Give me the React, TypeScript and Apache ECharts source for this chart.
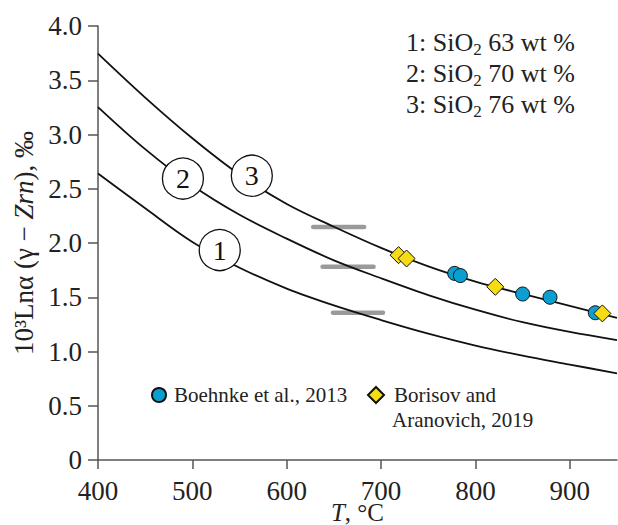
import React, { useEffect, useRef } from 'react';
import * as echarts from 'echarts';

const FONT = "'Liberation Serif', 'Times New Roman', serif";

// Temperature grid (°C) at which the three model curves were read
const TEMPS = [400, 450, 500, 550, 600, 650, 700, 750, 800, 850, 900, 950];
const CURVE_1 = [2.64, 2.32, 2.01, 1.772, 1.58, 1.425, 1.29, 1.165, 1.055, 0.962, 0.88, 0.798];
const CURVE_2 = [3.253, 2.865, 2.53, 2.26, 2.04, 1.84, 1.675, 1.52, 1.385, 1.27, 1.18, 1.105];
const CURVE_3 = [3.745, 3.34, 2.965, 2.63, 2.36, 2.15, 1.955, 1.785, 1.645, 1.53, 1.42, 1.31];

// Data points
const BOEHNKE_T = [778, 784, 850, 879, 927];
const BOEHNKE_V = [1.72, 1.7, 1.53, 1.5, 1.357];
const BORISOV_T = [718.5, 727, 821, 934.5];
const BORISOV_V = [1.888, 1.857, 1.596, 1.351];

// Gray horizontal bars
const BAR_START = [628, 638, 649];
const BAR_END = [682, 692, 702];
const BAR_Y = [2.148, 1.78, 1.357];

// Curve number bubbles
const LABEL_T = [529, 490, 563];
const LABEL_V = [1.935, 2.594, 2.62];
const LABEL_TEXT = ['1', '2', '3'];

const X_TICKS = [400, 500, 600, 700, 800, 900];

const COMPOSITION = ['63', '70', '76'];

export default function App() {
  const ref = useRef<HTMLDivElement>(null);

  useEffect(() => {
    if (!ref.current) return;
    const chart = echarts.init(ref.current, null, { renderer: 'svg' });

    const curveSeries = [CURVE_1, CURVE_2, CURVE_3].map((c, i) => ({
      type: 'line',
      name: 'curve' + (i + 1),
      data: TEMPS.map((t, j) => [t, c[j]]),
      smooth: 0.35,
      symbol: 'none',
      lineStyle: { color: '#111', width: 1.8 },
      silent: true,
      z: 2,
    }));

    const barSeries = BAR_Y.map((y, i) => ({
      type: 'line',
      name: 'bar' + i,
      data: [[BAR_START[i], y], [BAR_END[i], y]],
      symbol: 'none',
      lineStyle: { color: '#9a9a9a', width: 4.5, cap: 'round' },
      silent: true,
      z: 1,
    }));

    const legendText = { fontFamily: FONT, fontSize: 21, color: '#222', lineHeight: 26 };

    const option = {
      animation: false,
      grid: { left: 98, right: 1, top: 26, bottom: 65, containLabel: false, outerBoundsMode: 'none' },
      legend: [
        {
          data: [{ name: 'Boehnke et al., 2013' }],
          left: 151,
          top: 382,
          padding: 0,
          itemWidth: 14,
          itemHeight: 14,
          selectedMode: false,
          textStyle: { ...legendText, padding: [0, 0, 0, 3] },
        },
        {
          data: [{ name: 'Borisov and Aranovich, 2019' }],
          formatter: () => 'Borisov and',
          left: 367,
          top: 382,
          padding: 0,
          itemWidth: 16,
          itemHeight: 16,
          selectedMode: false,
          textStyle: { ...legendText, padding: [0, 0, 0, 5] },
        },
      ],
      xAxis: {
        type: 'value',
        min: 400,
        max: 950,
        interval: 100,
        name: '{i|T}, °C',
        nameLocation: 'middle',
        nameGap: 43,
        nameMoveOverlap: false,
        nameTextStyle: {
          fontFamily: FONT,
          fontSize: 25,
          lineHeight: 19,
          color: '#222',
          rich: {
            i: { fontFamily: FONT, fontSize: 25, lineHeight: 19, fontStyle: 'italic', color: '#222' },
          },
        },
        splitLine: { show: false },
        axisLine: { lineStyle: { color: '#555', width: 1.5 } },
        axisTick: { length: 9, lineStyle: { color: '#555', width: 1.5 }, customValues: X_TICKS },
        axisLabel: {
          customValues: X_TICKS,
          fontFamily: FONT,
          fontSize: 27,
          lineHeight: 20,
          color: '#222',
          margin: 21,
        },
      },
      yAxis: {
        type: 'value',
        min: 0,
        max: 4,
        interval: 0.5,
        name: '10³Lnα (γ − {i|Zrn}), ‰',
        nameLocation: 'middle',
        nameGap: 61,
        nameRotate: 90,
        nameMoveOverlap: false,
        nameTextStyle: {
          fontFamily: FONT,
          fontSize: 27,
          color: '#222',
          rich: {
            i: { fontFamily: FONT, fontSize: 27, fontStyle: 'italic', color: '#222' },
          },
        },
        splitLine: { show: false },
        axisLine: { show: true, lineStyle: { color: '#555', width: 1.5 } },
        axisTick: { show: true, length: 10, lineStyle: { color: '#555', width: 1.5 } },
        axisLabel: {
          fontFamily: FONT,
          fontSize: 27,
          color: '#222',
          margin: 16,
          formatter: (v: number) => (v === 0 ? '0' : v.toFixed(1)),
        },
      },
      graphic: [
        {
          type: 'text',
          left: 406,
          top: 27,
          z: 100,
          style: {
            text: COMPOSITION.map((c, i) => `${i + 1}: SiO{sub|2} ${c} wt %`).join('\n'),
            fontFamily: FONT,
            fontSize: 26,
            lineHeight: 31,
            fill: '#222',
            rich: {
              sub: { fontFamily: FONT, fontSize: 17, lineHeight: 17, verticalAlign: 'bottom', fill: '#222' },
            },
          },
        },
        {
          type: 'text',
          left: 392,
          top: 409,
          z: 100,
          style: {
            text: 'Aranovich, 2019',
            fontFamily: FONT,
            fontSize: 21,
            fill: '#222',
          },
        },
      ],
      series: [
        ...barSeries,
        ...curveSeries,
        {
          type: 'scatter',
          name: 'labels',
          data: LABEL_T.map((t, i) => [t, LABEL_V[i]]),
          symbol: 'circle',
          symbolSize: 41,
          itemStyle: { color: '#fff', borderColor: '#111', borderWidth: 1.3, opacity: 1 },
          label: {
            show: true,
            position: 'inside',
            formatter: (p: any) => LABEL_TEXT[p.dataIndex],
            fontFamily: FONT,
            fontSize: 28,
            color: '#111',
          },
          silent: true,
          z: 5,
        },
        {
          type: 'scatter',
          name: 'Boehnke et al., 2013',
          data: BOEHNKE_T.map((t, i) => [t, BOEHNKE_V[i]]),
          symbol: 'circle',
          symbolSize: 14,
          itemStyle: { color: '#0a9fd0', borderColor: '#111', borderWidth: 1, opacity: 1 },
          z: 6,
        },
        {
          type: 'scatter',
          name: 'Borisov and Aranovich, 2019',
          data: BORISOV_T.map((t, i) => [t, BORISOV_V[i]]),
          symbol: 'diamond',
          symbolSize: 17,
          itemStyle: { color: '#f7dc14', borderColor: '#111', borderWidth: 1, opacity: 1 },
          z: 7,
        },
      ],
    };

    chart.setOption(option as any);
    return () => chart.dispose();
  }, []);

  return (
    <div
      ref={ref}
      style={{ position: 'fixed', left: 0, top: 0, width: 618, height: 525, background: '#fff' }}
    />
  );
}
